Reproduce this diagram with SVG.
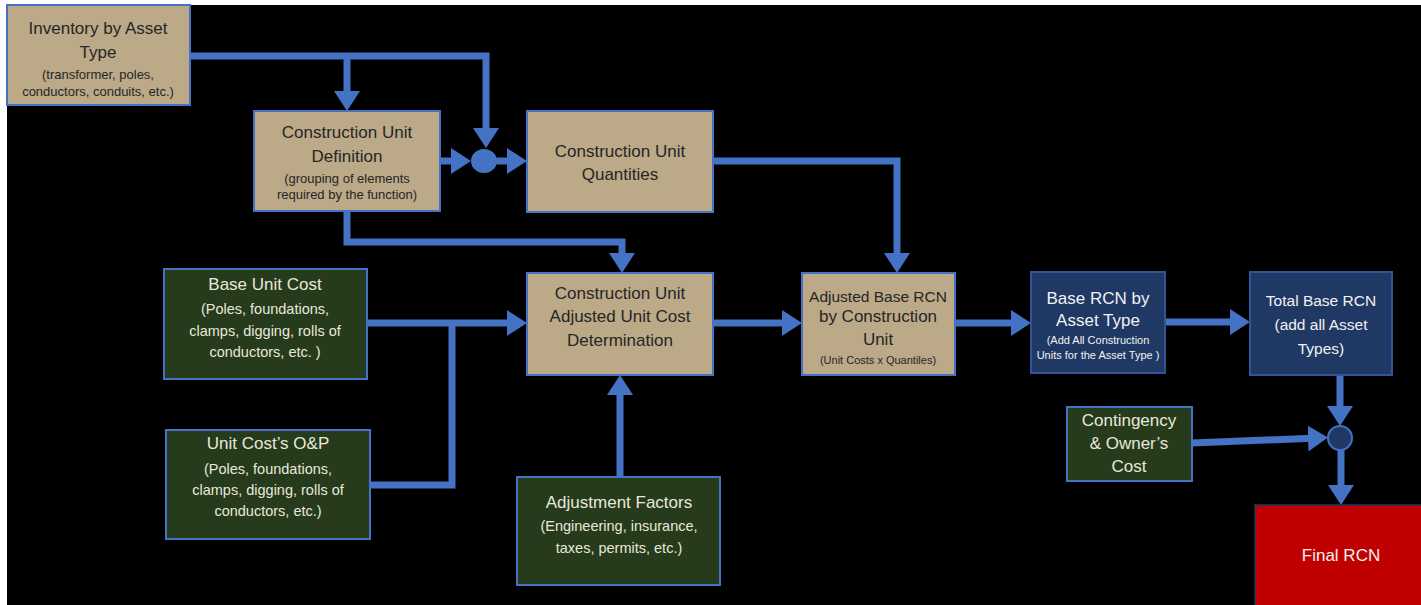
<svg xmlns="http://www.w3.org/2000/svg" width="1421" height="605" viewBox="0 0 1421 605">
<defs>
<marker id="ah" markerUnits="userSpaceOnUse" markerWidth="20" markerHeight="26" viewBox="0 0 20 26" refX="10" refY="13" orient="auto">
<path d="M0,0 L20,13 L0,26 z" fill="#4472C4"/>
</marker>
<style>
.tan{fill:#BBA988;stroke:#4472C4;stroke-width:2}
.grn{fill:#263A1C;stroke:#4472C4;stroke-width:2}
.nav{fill:#1F3864;stroke:#2F5597;stroke-width:2}
.red{fill:#C00000;stroke:#1F3864;stroke-width:1.5}
text{font-family:"Liberation Sans",Arial,sans-serif;text-anchor:middle}
.td{fill:#262626}
.tl{fill:#E8E8DA}
.tw{fill:#F2F2F2}
.b{font-size:17px}
.bb{font-size:15.5px}
.s{font-size:13px}
.xs{font-size:11px}
.m{font-size:14.5px}
.con{fill:none;stroke:#4472C4;stroke-width:7;marker-end:url(#ah)}
.con2{fill:none;stroke:#4472C4;stroke-width:7}
</style>
</defs>
<rect x="0" y="0" width="1421" height="605" fill="#FFFFFF"/>
<rect x="7" y="5" width="1414" height="600" fill="#000000"/>

<g id="connectors">
<path class="con" d="M190,56 H486 V138"/>
<path class="con" d="M347,56 V101"/>
<path class="con" d="M440,161 H461"/>
<path class="con" d="M496,161 H517"/>
<path class="con" d="M713,161 H897 V263"/>
<path class="con" d="M347,211 V242 H622 V263"/>
<path class="con" d="M367,323 H517"/>
<path class="con2" d="M370,485 H452 V323"/>
<path class="con" d="M620,477 V385"/>
<path class="con" d="M713,323 H792"/>
<path class="con" d="M955,323 H1021"/>
<path class="con" d="M1165,322 H1240"/>
<path class="con" d="M1340,375 V416"/>
<path class="con" d="M1192,443 L1318,438"/>
<path class="con" d="M1341,450 V495"/>
</g>

<g id="junction1"><ellipse cx="484" cy="161" rx="13" ry="12" fill="#4472C4"/></g>
<g id="junction2"><circle cx="1340" cy="438" r="12" fill="#1F3864" stroke="#4472C4" stroke-width="2"/></g>

<g id="inventory">
<rect class="tan" x="7" y="5" width="183" height="100"/>
<text class="td b" x="98" y="34">Inventory by Asset</text>
<text class="td b" x="98" y="58">Type</text>
<text class="td s" x="98" y="79">(transformer, poles,</text>
<text class="td s" x="98" y="96">conductors, conduits, etc.)</text>
</g>

<g id="cu-definition">
<rect class="tan" x="254" y="111" width="186" height="100"/>
<text class="td b" x="347" y="138">Construction Unit</text>
<text class="td b" x="347" y="162">Definition</text>
<text class="td s" x="347" y="183">(grouping of elements</text>
<text class="td s" x="347" y="199">required by the function)</text>
</g>

<g id="cu-quantities">
<rect class="tan" x="527" y="111" width="186" height="101"/>
<text class="td b" x="620" y="157">Construction Unit</text>
<text class="td b" x="620" y="180">Quantities</text>
</g>

<g id="cu-adjusted">
<rect class="tan" x="527" y="273" width="186" height="102"/>
<text class="td b" x="620" y="299">Construction Unit</text>
<text class="td b" x="620" y="322">Adjusted Unit Cost</text>
<text class="td b" x="620" y="346">Determination</text>
</g>

<g id="adjusted-base-rcn">
<rect class="tan" x="802" y="273" width="153" height="102"/>
<text class="td bb" x="878" y="302">Adjusted Base RCN</text>
<text class="td b" x="878" y="322">by Construction</text>
<text class="td b" x="878" y="345">Unit</text>
<text class="td xs" x="878" y="364">(Unit Costs x Quantiles)</text>
</g>

<g id="base-rcn-asset">
<rect class="nav" x="1031" y="272" width="134" height="101"/>
<text class="tw b" x="1098" y="304">Base RCN by</text>
<text class="tw b" x="1098" y="326">Asset Type</text>
<text class="tw xs" x="1098" y="344">(Add All Construction</text>
<text class="tw xs" x="1098" y="359">Units for the Asset Type )</text>
</g>

<g id="total-base-rcn">
<rect class="nav" x="1250" y="272" width="142" height="103"/>
<text class="tw bb" x="1321" y="306">Total Base RCN</text>
<text class="tw bb" x="1321" y="330">(add all Asset</text>
<text class="tw bb" x="1321" y="354">Types)</text>
</g>

<g id="contingency">
<rect class="grn" x="1067" y="407" width="125" height="74"/>
<text class="tl b" x="1129" y="426">Contingency</text>
<text class="tl b" x="1129" y="449">&amp; Owner’s</text>
<text class="tl b" x="1129" y="472">Cost</text>
</g>

<g id="final-rcn">
<rect class="red" x="1255" y="505" width="170" height="104"/>
<text class="tw b" x="1341" y="561">Final RCN</text>
</g>

<g id="base-unit-cost">
<rect class="grn" x="164" y="269" width="203" height="110"/>
<text class="tl b" x="265" y="290">Base Unit Cost</text>
<text class="tl m" x="265" y="314">(Poles, foundations,</text>
<text class="tl m" x="265" y="336">clamps, digging, rolls of</text>
<text class="tl m" x="265" y="357">conductors, etc. )</text>
</g>

<g id="unit-cost-op">
<rect class="grn" x="166" y="430" width="204" height="109"/>
<text class="tl b" x="268" y="449">Unit Cost’s O&amp;P</text>
<text class="tl m" x="268" y="474">(Poles, foundations,</text>
<text class="tl m" x="268" y="495">clamps, digging, rolls of</text>
<text class="tl m" x="268" y="516">conductors, etc.)</text>
</g>

<g id="adjustment-factors">
<rect class="grn" x="517" y="477" width="203" height="108"/>
<text class="tl b" x="619" y="508">Adjustment Factors</text>
<text class="tl m" x="619" y="531">(Engineering, insurance,</text>
<text class="tl m" x="619" y="553">taxes, permits, etc.)</text>
</g>
</svg>
